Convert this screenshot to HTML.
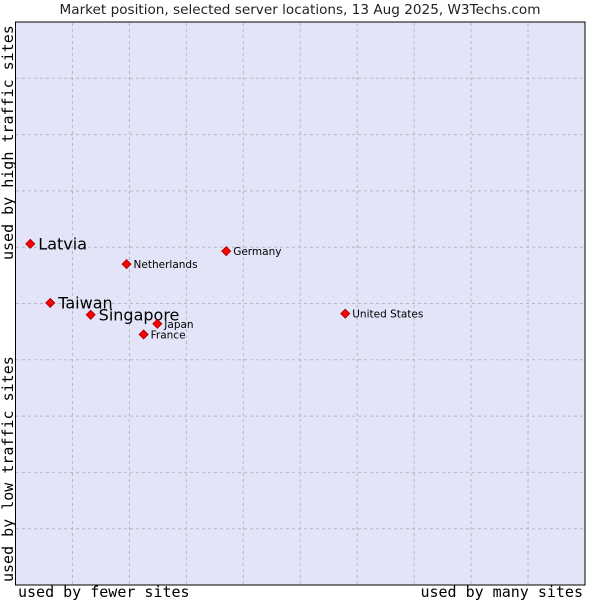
<!DOCTYPE html>
<html><head><meta charset="utf-8"><style>
body{margin:0;background:#fff;}
svg{display:block;font-family:"DejaVu Sans","Liberation Sans",sans-serif;}
.ax{font-family:"DejaVu Sans Mono","Liberation Mono",monospace;font-size:15px;fill:#000;}
</style></head><body>
<svg id="chart" width="600" height="600">
<text x="300" y="14" text-anchor="middle" font-size="13.6" fill="#222">Market position, selected server locations, 13 Aug 2025, W3Techs.com</text>
<rect x="15.5" y="22" width="569.5" height="563" fill="#e3e4f8" stroke="#000" stroke-width="1"/>
<g id="grid"></g>
<g id="pts"></g>
<text class="ax" x="18" y="597">used by fewer sites</text>
<text class="ax" x="583" y="597" text-anchor="end">used by many sites</text>
<text class="ax" transform="translate(13,260) rotate(-90)">used by high traffic sites</text>
<text class="ax" transform="translate(13,582) rotate(-90)">used by low traffic sites</text>
</svg>
<script>
const countries=["Latvia","Taiwan","Singapore","Japan","France","Netherlands","Germany","United States"];
const sitesShare=[2.6,6.1,13.2,24.9,22.5,19.5,37,57.9];
const trafficScore=[60.6,50.1,48,46.4,44.5,57,59.3,48.2];
const bigLabel=[true,true,true,false,false,false,false,false];
const gridTicks=[10,20,30,40,50,60,70,80,90];
const NS="http://www.w3.org/2000/svg";
function xs(v){return 15.5+v*5.695;}
function ys(v){return 585-v*5.63;}
const g=document.getElementById('grid');
gridTicks.forEach(t=>{
 const l=document.createElementNS(NS,'line');
 
 
 l.setAttribute('x1',xs(t));l.setAttribute('x2',xs(t));l.setAttribute('y1',23);l.setAttribute('y2',584);
 l.setAttribute('stroke','#b8b8c0');l.setAttribute('stroke-dasharray','3,3');g.appendChild(l);
 const h=document.createElementNS(NS,'line');
 
 
 h.setAttribute('y1',ys(t));h.setAttribute('y2',ys(t));h.setAttribute('x1',16);h.setAttribute('x2',584);
 h.setAttribute('stroke','#b8b8c0');h.setAttribute('stroke-dasharray','3,3');g.appendChild(h);
});
const p=document.getElementById('pts');
countries.forEach((c,i)=>{
 const x=xs(sitesShare[i]),y=ys(trafficScore[i]);
 const d=document.createElementNS(NS,'polygon');
 
 
 d.setAttribute('points',`${x},${y-4.5} ${x+4.5},${y} ${x},${y+4.5} ${x-4.5},${y}`);
 d.setAttribute('fill','#f00');d.setAttribute('stroke','#900');d.setAttribute('stroke-width','0.8');
 p.appendChild(d);
 const t=document.createElementNS(NS,'text');
 
 
 t.setAttribute('x',x+(bigLabel[i]?8:7));t.setAttribute('y',y+(bigLabel[i]?5.5:4));
 t.setAttribute('font-size',bigLabel[i]?16:10.5);t.setAttribute('fill','#000');
 t.textContent=c;p.appendChild(t);
});
</script>
</body></html>
